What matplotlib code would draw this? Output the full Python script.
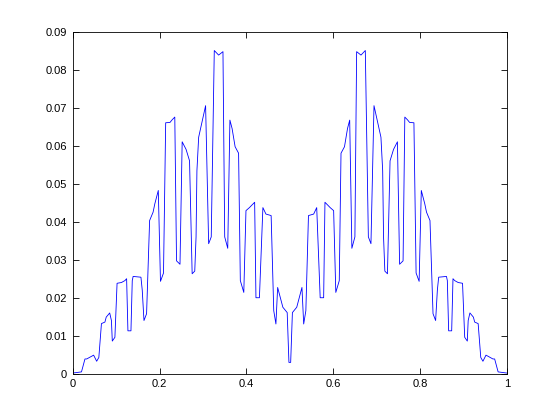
import matplotlib
matplotlib.use("Agg")
import matplotlib.pyplot as plt
from matplotlib.ticker import FuncFormatter

# values (left half then right half)
left_x = [0.000, 0.020, 0.028, 0.032, 0.043, 0.048, 0.055, 0.060, 0.066, 0.074,
          0.077, 0.085, 0.089, 0.091, 0.097, 0.102, 0.112, 0.120, 0.124, 0.127,
          0.134, 0.137, 0.139, 0.157, 0.160, 0.164, 0.170, 0.177, 0.185, 0.189,
          0.197, 0.202, 0.209, 0.214, 0.224, 0.229, 0.235, 0.239, 0.247, 0.252,
          0.261, 0.269, 0.275, 0.281, 0.284, 0.286, 0.290, 0.296, 0.306, 0.313,
          0.319, 0.326, 0.336, 0.346, 0.350, 0.357, 0.362, 0.367, 0.374, 0.382,
          0.386, 0.394, 0.399, 0.407, 0.419, 0.422, 0.430, 0.438, 0.445, 0.457,
          0.463, 0.468, 0.472, 0.476, 0.484, 0.494, 0.498]
left_y = [0.0002, 0.0005, 0.0039, 0.0039, 0.0046, 0.0049, 0.0033, 0.0043, 0.0132, 0.0136,
          0.0149, 0.0160, 0.0140, 0.0086, 0.0096, 0.0238, 0.0240, 0.0245, 0.0250, 0.0113,
          0.0113, 0.0245, 0.0256, 0.0254, 0.0220, 0.0140, 0.0158, 0.0403, 0.0425, 0.0447,
          0.0482, 0.0243, 0.0265, 0.0660, 0.0661, 0.0668, 0.0675, 0.0297, 0.0288, 0.0610,
          0.0590, 0.0560, 0.0263, 0.0270, 0.0360, 0.0534, 0.0622, 0.0653, 0.0705, 0.0342,
          0.0360, 0.0850, 0.0838, 0.0847, 0.0360, 0.0330, 0.0667, 0.0645, 0.0597, 0.0580,
          0.0245, 0.0214, 0.0429, 0.0437, 0.0451, 0.0200, 0.0200, 0.0437, 0.0420, 0.0416,
          0.0166, 0.0131, 0.0227, 0.0210, 0.0175, 0.0161, 0.0030]

right_x = [0.502, 0.506, 0.516, 0.524, 0.528, 0.532, 0.537, 0.543, 0.555, 0.562,
           0.570, 0.578, 0.581, 0.593, 0.601, 0.606, 0.614, 0.618, 0.626, 0.633,
           0.638, 0.643, 0.650, 0.654, 0.664, 0.674, 0.681, 0.687, 0.694, 0.704,
           0.710, 0.714, 0.716, 0.719, 0.725, 0.731, 0.739, 0.748, 0.753, 0.761,
           0.765, 0.771, 0.776, 0.786, 0.791, 0.798, 0.803, 0.811, 0.815, 0.823,
           0.830, 0.836, 0.840, 0.843, 0.861, 0.863, 0.866, 0.873, 0.876, 0.880,
           0.888, 0.898, 0.903, 0.909, 0.911, 0.915, 0.923, 0.926, 0.934, 0.940,
           0.945, 0.952, 0.957, 0.968, 0.972, 0.980, 1.000]
right_y = [0.0030, 0.0161, 0.0175, 0.0210, 0.0227, 0.0131, 0.0166, 0.0416, 0.0420, 0.0437,
           0.0200, 0.0200, 0.0451, 0.0437, 0.0429, 0.0214, 0.0245, 0.0580, 0.0597, 0.0645,
           0.0667, 0.0330, 0.0360, 0.0847, 0.0838, 0.0850, 0.0360, 0.0342, 0.0705, 0.0653,
           0.0622, 0.0534, 0.0360, 0.0270, 0.0263, 0.0560, 0.0590, 0.0610, 0.0288, 0.0297,
           0.0675, 0.0668, 0.0661, 0.0660, 0.0265, 0.0243, 0.0482, 0.0447, 0.0425, 0.0403,
           0.0158, 0.0140, 0.0220, 0.0254, 0.0256, 0.0245, 0.0113, 0.0113, 0.0250, 0.0245,
           0.0240, 0.0238, 0.0096, 0.0086, 0.0140, 0.0160, 0.0149, 0.0136, 0.0132, 0.0043,
           0.0033, 0.0049, 0.0046, 0.0039, 0.0039, 0.0005, 0.0002]

x_ticks = [0, 0.2, 0.4, 0.6, 0.8, 1]
y_ticks = [0, 0.01, 0.02, 0.03, 0.04, 0.05, 0.06, 0.07, 0.08, 0.09]

plt.rcParams['font.family'] = ['Liberation Sans', 'DejaVu Sans']

fig = plt.figure(figsize=(5.6, 4.2), dpi=100)
ax = fig.add_axes([0.13, 0.11, 0.775, 0.815])

ax.plot(left_x + right_x, left_y + right_y, color='#0000ff', linewidth=0.6)

ax.set_xlim(0, 1)
ax.set_ylim(0, 0.09)
ax.set_xticks(x_ticks)
ax.set_yticks(y_ticks)
fmt = FuncFormatter(lambda v, p: '%g' % round(v, 4))
ax.xaxis.set_major_formatter(fmt)
ax.yaxis.set_major_formatter(fmt)
ax.tick_params(direction='in', length=4, width=0.6, labelsize=8,
               top=True, right=True, pad=4)
for s in ax.spines.values():
    s.set_linewidth(0.6)

fig.savefig('out.png', dpi=100)
